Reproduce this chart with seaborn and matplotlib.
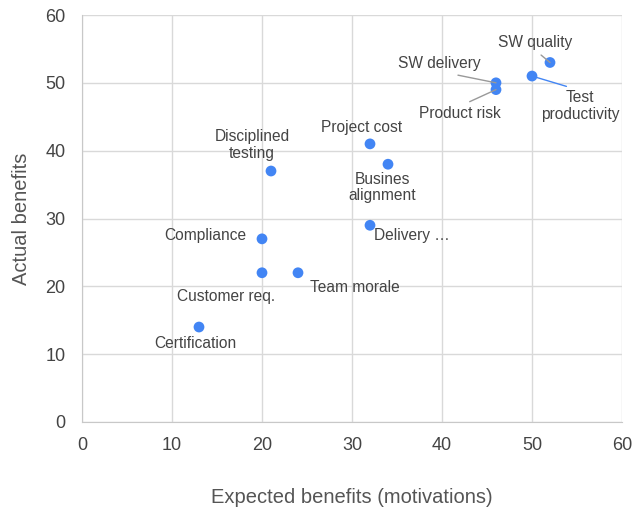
import pandas as pd
import matplotlib.pyplot as plt
import seaborn as sns

# Benefit categories, expected (x) vs actual (y)
names = ["Certification", "Customer req.", "Team morale", "Compliance",
         "Disciplined\ntesting", "Project cost", "Busines\nalignment",
         "Delivery …", "SW delivery", "Product risk", "Test\nproductivity",
         "SW quality"]
expected = [13, 20, 24, 20, 21, 32, 34, 32, 46, 46, 50, 52]
actual = [14, 22, 22, 27, 37, 41, 38, 29, 50, 49, 51, 53]

# label offsets in pixels, and leader line colour (None = no line)
offsets = [(-4, -16), (-36, -24), (57, -15), (-57, 3), (-19, 26), (-8, 16),
           (-6, -23), (42, -10), (-57, 19), (-36, -24), (48, -30), (-15, 20)]
leaders = [None, None, None, None, None, None, None, None,
           "#999999", "#999999", "#4285f4", "#999999"]

df = pd.DataFrame({"name": names, "expected": expected, "actual": actual})

sns.set_style("white")
plt.rcParams["font.family"] = ["Liberation Sans", "DejaVu Sans"]

fig, ax = plt.subplots(figsize=(6.32, 5.13), dpi=100)
fig.subplots_adjust(left=82 / 632, right=622 / 632, top=1 - 15 / 513, bottom=1 - 422 / 513)

sns.scatterplot(data=df, x="expected", y="actual", ax=ax, color="#4285f4",
                s=60, edgecolor="none", zorder=3)

for name, x, y, off, lc in zip(names, expected, actual, offsets, leaders):
    arrow = None
    if lc:
        # leader starts at the label edge facing the point
        rel = (0.5, 0) if off[1] > 0 else (0.5, 1)
        arrow = dict(arrowstyle="-", color=lc, lw=1, shrinkA=2, shrinkB=0,
                     relpos=rel)
    ax.annotate(name, (x, y), xytext=off, textcoords="offset pixels",
                ha="center", va="center", fontsize=11.2, color="#444444",
                linespacing=1.1, arrowprops=arrow)

ax.set_xlim(0, 60)
ax.set_ylim(0, 60)
ax.set_xticks(range(0, 61, 10))
ax.set_yticks(range(0, 61, 10))
ax.grid(True, color="#d9d9d9", lw=1)
for sp in ax.spines.values():
    sp.set_visible(False)
ax.spines["left"].set_visible(True)
ax.spines["bottom"].set_visible(True)
ax.spines["left"].set_color("#c8c8c8")
ax.spines["bottom"].set_color("#c8c8c8")
ax.tick_params(length=0, labelsize=13, labelcolor="#444444")
ax.tick_params(axis="y", pad=12)
ax.tick_params(axis="x", pad=11)

ax.set_xlabel("Expected benefits (motivations)", fontsize=14.5, color="#555555", labelpad=24)
ax.set_ylabel("Actual benefits", fontsize=14.5, color="#555555", labelpad=10)

fig.savefig("out.png", dpi=100)
